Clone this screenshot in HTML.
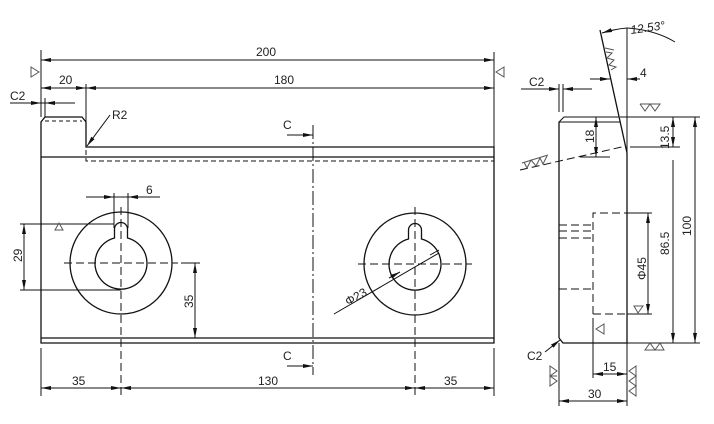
<!DOCTYPE html>
<html><head><style>html,body{margin:0;padding:0;background:#fff}svg{display:block}text{font-family:"Liberation Sans",sans-serif;font-size:12px;fill:#222}</style></head><body>
<svg width="714" height="424" viewBox="0 0 714 424" xmlns="http://www.w3.org/2000/svg">
<defs>
<marker id="a" viewBox="0 0 10 6" refX="10" refY="3" markerWidth="10" markerHeight="6" orient="auto-start-reverse" markerUnits="userSpaceOnUse"><path d="M0,1 L10,3 L0,5 Z" fill="#111"/></marker>
</defs>
<g stroke="#111" fill="none" stroke-width="1.3">
<path d="M41,338 V122 L45,117 H82 L86,122 V147 H494 V343 H41 Z"/>
<line x1="41" y1="157" x2="494" y2="157"/>
<line x1="41" y1="338" x2="494" y2="338"/>
<line x1="45" y1="121" x2="82" y2="121" stroke-dasharray="4,3" stroke-width="1"/>
<path d="M86,150 V161 H494" stroke-dasharray="5,3" stroke-width="1"/>
<circle cx="121" cy="263" r="51"/>
<path d="M114.5,238 A26,26 0 1 0 127.5,238 V229 A6.5,6.5 0 0 0 114.5,229 Z"/>
<circle cx="415" cy="264" r="51"/>
<path d="M408.5,239 A26,26 0 1 0 421.5,239 V230 A6.5,6.5 0 0 0 408.5,230 Z"/>
</g>
<g stroke="#111" fill="none" stroke-width="1" stroke-dasharray="8,4">
<line x1="64" y1="263" x2="178" y2="263"/><line x1="121" y1="207" x2="121" y2="395"/>
<line x1="358" y1="264" x2="472" y2="264"/><line x1="415" y1="207" x2="415" y2="395"/>
<line x1="313" y1="125" x2="313" y2="375" stroke-dasharray="14,3,2,3"/>
<path d="M593,314 V213 H627" /><line x1="593" y1="314" x2="627" y2="314"/>
<line x1="559" y1="225" x2="593" y2="225"/><line x1="559" y1="231" x2="593" y2="231"/><line x1="559" y1="238" x2="593" y2="238"/><line x1="559" y1="289" x2="593" y2="289"/>
<line x1="520" y1="170" x2="626" y2="146"/>
</g>
<g stroke="#111" fill="none" stroke-width="1">
<line x1="41" y1="50" x2="41" y2="117"/><line x1="494" y1="52" x2="494" y2="147"/><line x1="86" y1="84" x2="86" y2="147"/>
<line x1="45" y1="98" x2="45" y2="117"/><line x1="10" y1="103" x2="75" y2="103"/>
<line x1="20" y1="224" x2="114" y2="224"/><line x1="20" y1="290" x2="121" y2="290"/>
<line x1="181" y1="263" x2="200" y2="263"/>
<line x1="114" y1="193" x2="114" y2="228"/><line x1="128" y1="193" x2="128" y2="228"/><line x1="86" y1="197" x2="160" y2="197"/>
<line x1="41" y1="348" x2="41" y2="396"/><line x1="494" y1="348" x2="494" y2="396"/>
<line x1="41" y1="60" x2="494" y2="60" marker-start="url(#a)" marker-end="url(#a)"/>
<line x1="86" y1="88" x2="494" y2="88" marker-end="url(#a)"/>
<line x1="41" y1="88" x2="86" y2="88" marker-start="url(#a)" marker-end="url(#a)"/>
<line x1="86" y1="88" x2="100" y2="88" marker-start="url(#a)"/>
<line x1="30" y1="103" x2="41" y2="103" marker-end="url(#a)"/><line x1="56" y1="103" x2="45" y2="103" marker-end="url(#a)"/>
<line x1="100" y1="197" x2="114" y2="197" marker-end="url(#a)"/><line x1="142" y1="197" x2="128" y2="197" marker-end="url(#a)"/>
<line x1="24" y1="224" x2="24" y2="290" marker-start="url(#a)" marker-end="url(#a)"/>
<line x1="195" y1="263" x2="195" y2="338" marker-start="url(#a)" marker-end="url(#a)"/>
<line x1="41" y1="388" x2="121" y2="388" marker-start="url(#a)" marker-end="url(#a)"/>
<line x1="121" y1="388" x2="415" y2="388" marker-start="url(#a)" marker-end="url(#a)"/>
<line x1="415" y1="388" x2="494" y2="388" marker-start="url(#a)" marker-end="url(#a)"/>
<line x1="110" y1="115" x2="87" y2="146" marker-end="url(#a)"/>
<line x1="334" y1="314" x2="439" y2="253" />
<line x1="400" y1="272" x2="389" y2="278" marker-start="url(#a)"/><line x1="430" y1="255" x2="439" y2="250" />
<line x1="287" y1="135" x2="313" y2="135" marker-end="url(#a)"/>
<line x1="287" y1="366" x2="313" y2="366" marker-end="url(#a)"/>
<path d="M559,338 V122 L564,117 H619"/>
<line x1="559" y1="122" x2="620" y2="122"/>
<path d="M600,30 L627,153 V343 H563 L559,338" stroke-width="1.3"/>
<line x1="559" y1="122" x2="559" y2="338" stroke-width="1.3"/>
<line x1="627" y1="28" x2="627" y2="153"/>
<line x1="620" y1="117" x2="700" y2="117"/><line x1="630" y1="147" x2="680" y2="147"/><line x1="627" y1="343" x2="700" y2="343"/>
<line x1="580" y1="157" x2="610" y2="157"/>
<line x1="695" y1="117" x2="695" y2="343" marker-start="url(#a)" marker-end="url(#a)"/>
<line x1="673" y1="160" x2="673" y2="343" marker-end="url(#a)"/>
<line x1="673" y1="117" x2="673" y2="147" marker-start="url(#a)" marker-end="url(#a)"/>
<line x1="596" y1="117" x2="596" y2="157" marker-start="url(#a)" marker-end="url(#a)"/>
<line x1="648" y1="213" x2="648" y2="314" marker-start="url(#a)" marker-end="url(#a)"/>
<line x1="627" y1="213" x2="652" y2="213"/><line x1="627" y1="314" x2="652" y2="314"/>
<line x1="590" y1="79" x2="610" y2="79" marker-end="url(#a)"/><line x1="640" y1="79" x2="627" y2="79" marker-end="url(#a)"/>
<line x1="521" y1="89" x2="559" y2="89" marker-end="url(#a)"/><line x1="592" y1="89" x2="563" y2="89" marker-end="url(#a)"/>
<line x1="559" y1="84" x2="559" y2="112"/><line x1="563" y1="84" x2="563" y2="112"/>
<line x1="593" y1="318" x2="593" y2="378"/><line x1="627" y1="343" x2="627" y2="406"/><line x1="559" y1="343" x2="559" y2="406"/>
<line x1="593" y1="374" x2="627" y2="374" marker-start="url(#a)" marker-end="url(#a)"/>
<line x1="559" y1="401" x2="627" y2="401" marker-start="url(#a)" marker-end="url(#a)"/>
<line x1="545" y1="352" x2="560" y2="340" marker-end="url(#a)"/>
<path d="M602,33 Q615,29 627,28" marker-start="url(#a)"/>
<path d="M627,28 Q655,30 675,42"/>
</g>
<g stroke="#555" fill="none" stroke-width="1">
<path d="M31,67 L39,72 L31,77 Z"/><path d="M504,67 L496,72 L504,77 Z"/>
<path d="M55,230 L59,223 L63,230 Z"/>
<path d="M640,104 L645,111 L650,104 M650,104 L655,111 L660,104 Z M640,104 H660"/>
<path d="M522,163 L548,155 M524,162 L527,168 L531,160 L536,166 L540,158 L543,164 L547,156"/>
<path d="M605,48 L614,50 M606,52 L612,53 L607,58 L614,60 L609,65 L616,67 L611,70"/>
<path d="M634,306 H643 L638,313 Z"/>
<path d="M604,324 V334 L596,329 Z"/>
<path d="M645,350 L650,343 L655,350 L660,343 L664,350 Z"/>
<path d="M550,366 L557,371 L550,376 L557,381 L550,386 Z M550,376 H557"/>
<path d="M636,366 L629,371 L636,376 L629,381 L636,386 L629,391 L636,396 Z"/>
</g>
<text x="256" y="56">200</text>
<text x="274" y="84">180</text>
<text x="59" y="84">20</text>
<text x="10" y="100">C2</text>
<text x="112" y="119">R2</text>
<text x="146" y="194">6</text>
<text x="283" y="129">C</text>
<text x="283" y="360">C</text>
<text x="72" y="385">35</text>
<text x="258" y="385">130</text>
<text x="444" y="385">35</text>
<text transform="translate(22,262) rotate(-90)">29</text>
<text transform="translate(193,308) rotate(-90)">35</text>
<text transform="translate(348,306) rotate(-30)">Φ23</text>
<text x="631" y="34" transform="rotate(-8 631 34)" font-style="italic">12.53°</text>
<text x="640" y="77">4</text>
<text x="529" y="86">C2</text>
<text transform="translate(594,143) rotate(-90)">18</text>
<text transform="translate(669,149) rotate(-90)">13.5</text>
<text transform="translate(669,255) rotate(-90)">86.5</text>
<text transform="translate(691,236) rotate(-90)">100</text>
<text transform="translate(646,280) rotate(-90)">Φ45</text>
<text x="527" y="360">C2</text>
<text x="603" y="371">15</text>
<text x="588" y="398">30</text>
</svg>
</body></html>
